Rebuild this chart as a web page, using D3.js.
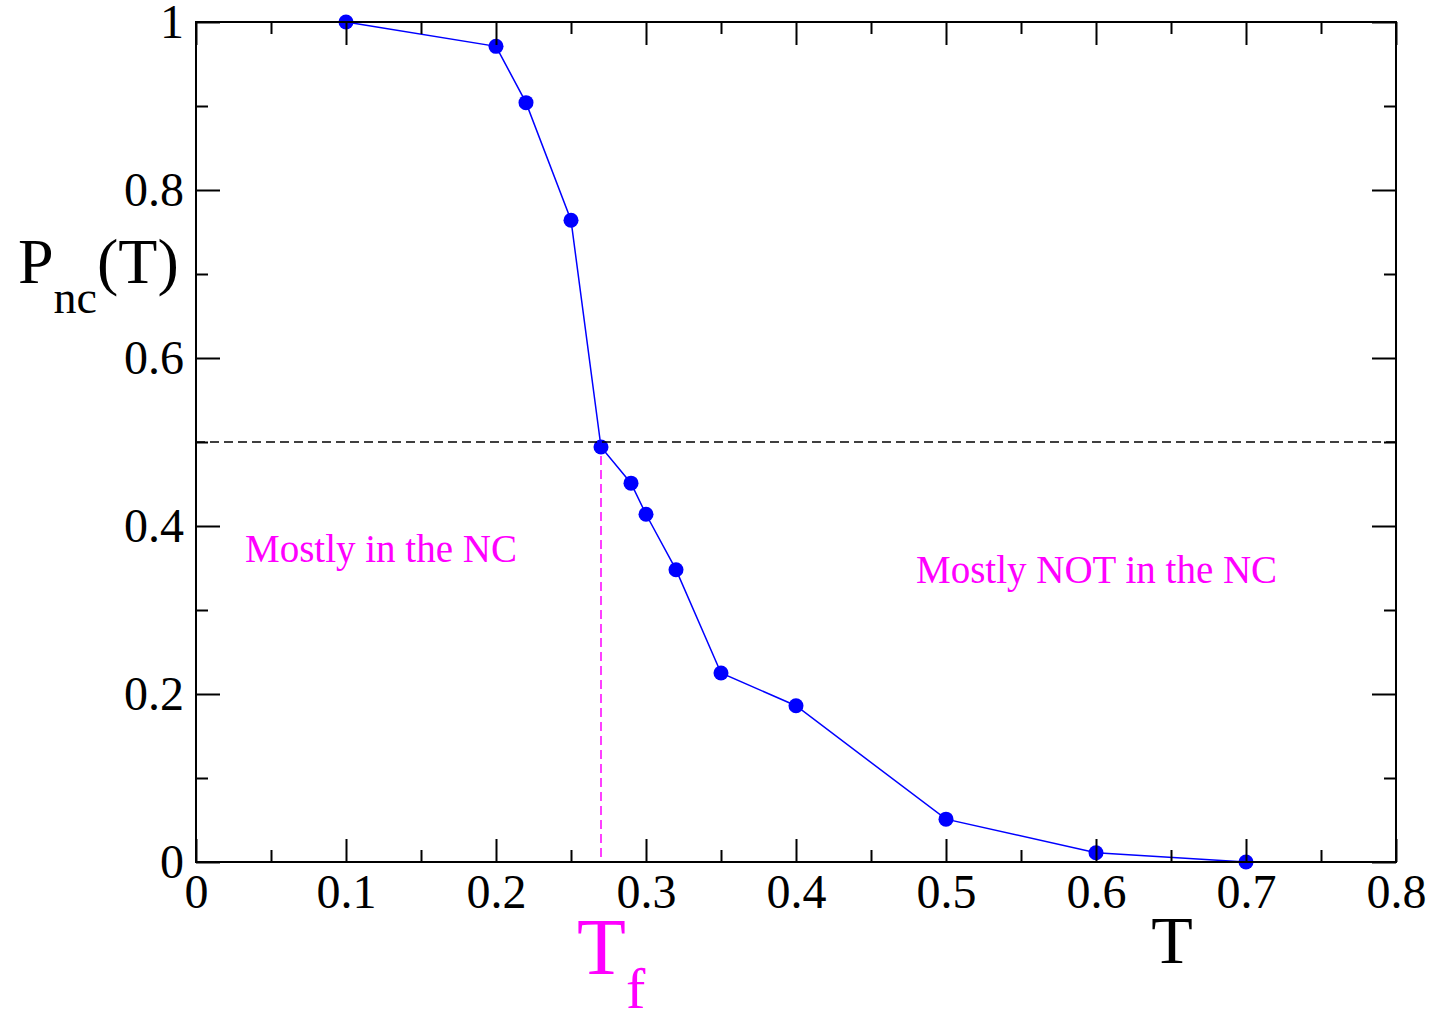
<!DOCTYPE html>
<html>
<head>
<meta charset="utf-8">
<script src="https://cdn.jsdelivr.net/npm/d3@7"></script>
<style>
  body { margin: 0; background: #fff; }
  svg { display: block; }
  .axis text { font-family: "Liberation Serif", "Times New Roman", serif; font-size: 48px; fill: #000; }
  .axis line { stroke: #000; stroke-width: 2; }
</style>
</head>
<body>
<script>
// temperature T and fraction of time in the native conformation
let temps = [0.1, 0.2, 0.22, 0.25, 0.27, 0.29, 0.30, 0.32, 0.35, 0.40, 0.50, 0.60, 0.70];
let pnc   = [1.0, 0.971, 0.904, 0.764, 0.494, 0.451, 0.414, 0.348, 0.225, 0.186, 0.051, 0.011, 0.0];

let xMajor = [0, 0.1, 0.2, 0.3, 0.4, 0.5, 0.6, 0.7, 0.8];
let xMinor = [0.05, 0.15, 0.25, 0.35, 0.45, 0.55, 0.65, 0.75];
let yMajor = [0, 0.2, 0.4, 0.6, 0.8, 1];
let yMinor = [0.1, 0.3, 0.5, 0.7, 0.9];

let halfLevel = 0.5;
let tFold = 0.27;

let svgWidth = 1435,
    svgHeight = 1011,
    margin = { top: 22, right: 39, bottom: 149, left: 196 };

let serif = '"Liberation Serif", "Times New Roman", serif';

let svg = d3.select("body").append("svg")
    .attr("width", svgWidth)
    .attr("height", svgHeight);

let x = d3.scaleLinear().domain([0, 0.8]).range([margin.left, svgWidth - margin.right]);
let y = d3.scaleLinear().domain([0, 1]).range([svgHeight - margin.bottom, margin.top]);

let fmt = d => d === 0 ? "0" : d === 1 ? "1" : d3.format(".1f")(d);

// Tf marker line
svg.append("line")
    .attr("x1", x(tFold)).attr("x2", x(tFold))
    .attr("y1", y(halfLevel)).attr("y2", y(0))
    .attr("stroke", "#ff00ff")
    .attr("stroke-width", 1.5)
    .attr("stroke-dasharray", "9,5");

let pts = temps.map((t, i) => ({ x: t, y: pnc[i] }));

svg.append("path")
    .datum(pts)
    .attr("fill", "none")
    .attr("stroke", "#0000ff")
    .attr("stroke-width", 1.5)
    .attr("d", d3.line().x(d => x(d.x)).y(d => y(d.y)));

svg.selectAll("circle.pt")
    .data(pts)
    .enter().append("circle")
    .attr("class", "pt")
    .attr("cx", d => x(d.x))
    .attr("cy", d => y(d.y))
    .attr("r", 7.5)
    .attr("fill", "#0000ff");

// P = 0.5 level
svg.append("line")
    .attr("x1", x(0)).attr("x2", x(0.8))
    .attr("y1", y(halfLevel)).attr("y2", y(halfLevel))
    .attr("stroke", "#000")
    .attr("stroke-width", 1.5)
    .attr("stroke-dasharray", "9,5");

// axes, ticks pointing inward on all four sides
function addAxis(axis, tx, ty) {
    let g = svg.append("g")
        .attr("class", "axis")
        .attr("transform", "translate(" + tx + "," + ty + ")")
        .call(axis);
    g.select(".domain").remove();
    return g;
}

addAxis(d3.axisBottom(x).tickValues(xMajor).tickSize(-23).tickPadding(12).tickFormat(fmt), 0, y(0));
addAxis(d3.axisBottom(x).tickValues(xMinor).tickSize(-12).tickFormat(""), 0, y(0));
addAxis(d3.axisTop(x).tickValues(xMajor).tickSize(-23).tickFormat(""), 0, y(1));
addAxis(d3.axisTop(x).tickValues(xMinor).tickSize(-12).tickFormat(""), 0, y(1));
addAxis(d3.axisLeft(y).tickValues(yMajor).tickSize(-24).tickPadding(12).tickFormat(fmt), x(0), 0);
addAxis(d3.axisLeft(y).tickValues(yMinor).tickSize(-12).tickFormat(""), x(0), 0);
addAxis(d3.axisRight(y).tickValues(yMajor).tickSize(-24).tickFormat(""), x(0.8), 0);
addAxis(d3.axisRight(y).tickValues(yMinor).tickSize(-12).tickFormat(""), x(0.8), 0);

svg.append("rect")
    .attr("x", x(0)).attr("y", y(1))
    .attr("width", x(0.8) - x(0))
    .attr("height", y(0) - y(1))
    .attr("fill", "none")
    .attr("stroke", "#000")
    .attr("stroke-width", 2);

// axis titles
let yTitle = svg.append("text")
    .attr("x", 18).attr("y", 283)
    .attr("font-family", serif)
    .attr("font-size", 64)
    .attr("fill", "#000");
yTitle.append("tspan").text("P");
yTitle.append("tspan").attr("dy", 30).attr("font-size", 46).text("nc");
yTitle.append("tspan").attr("dy", -30).text("(T)");

svg.append("text")
    .attr("x", 1172).attr("y", 963)
    .attr("text-anchor", "middle")
    .attr("font-family", serif)
    .attr("font-size", 68)
    .attr("fill", "#000")
    .text("T");

let tf = svg.append("text")
    .attr("x", 577).attr("y", 974)
    .attr("font-family", serif)
    .attr("font-size", 80)
    .attr("fill", "#ff00ff");
tf.append("tspan").text("T");
tf.append("tspan").attr("dy", 34).attr("font-size", 58).text("f");

// region notes
svg.append("text")
    .attr("x", 245).attr("y", 562)
    .attr("font-family", serif)
    .attr("font-size", 39)
    .attr("fill", "#ff00ff")
    .text("Mostly in the NC");

svg.append("text")
    .attr("x", 916).attr("y", 583)
    .attr("font-family", serif)
    .attr("font-size", 39)
    .attr("fill", "#ff00ff")
    .text("Mostly NOT in the NC");
</script>
</body>
</html>
